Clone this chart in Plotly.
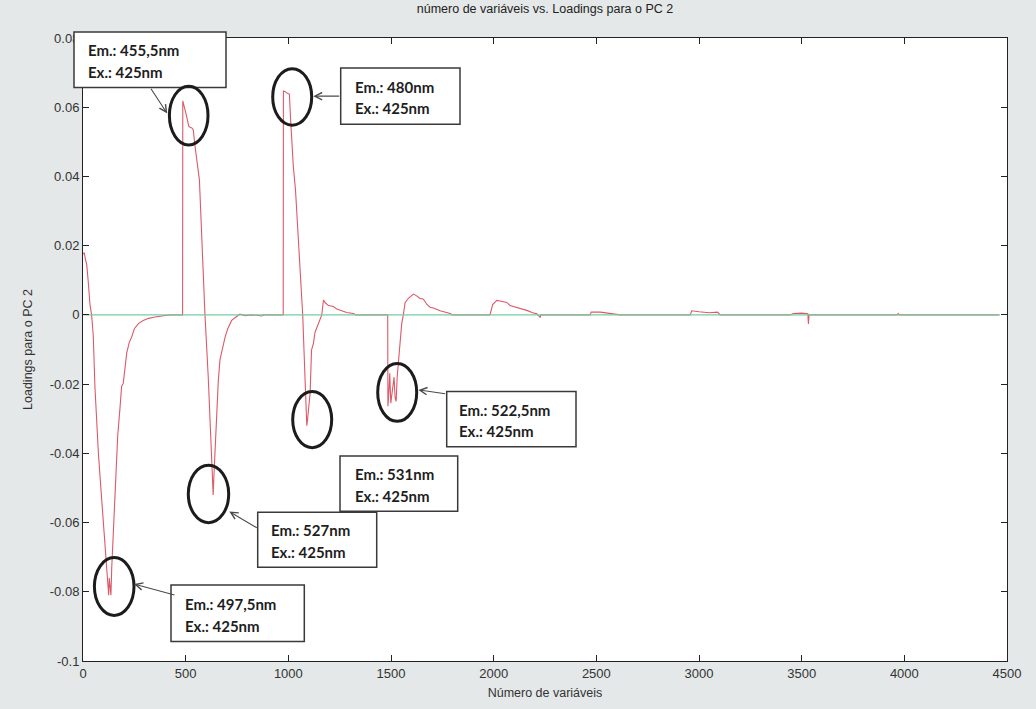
import plotly.graph_objects as go

# ---------------- data ----------------
seg1_x = [1, 6, 12, 18, 25, 34, 42, 50, 58, 66, 75, 87, 99, 108, 115, 120, 125, 128, 132, 136, 140,
          148, 156, 164, 169, 180, 188, 196, 205, 213, 225, 237, 250, 270, 293, 320, 350, 380, 410, 440, 484]
seg1_y = [0.0175, 0.018, 0.016, 0.0146, 0.010, 0.003, 0.0, -0.006, -0.0207, -0.030, -0.040, -0.050,
          -0.060, -0.067, -0.073, -0.078, -0.081, -0.076, -0.080, -0.081, -0.073, -0.062, -0.050, -0.040,
          -0.035, -0.027, -0.0207, -0.0198, -0.014, -0.011, -0.008, -0.0064, -0.004, -0.0025, -0.0016,
          -0.0010, -0.0006, -0.0003, -0.0001, 0.0, 0.0]

seg2_x = [485, 486, 492, 500, 508, 515, 522, 530, 537, 545, 567, 580, 594, 610, 620, 627, 631, 634, 638,
          644, 651, 659, 667, 680, 692, 705, 724, 745, 764, 790, 820, 846, 870, 880]
seg2_y = [0.0, 0.0618, 0.060, 0.0585, 0.0565, 0.0545, 0.0542, 0.0540, 0.0535, 0.049, 0.039, 0.020, 0.0,
          -0.018, -0.033, -0.042, -0.050, -0.052, -0.046, -0.038, -0.027, -0.019, -0.013, -0.009, -0.0064,
          -0.004, -0.0016, -0.0006, 0.0002, -0.0002, 0.0, -0.0001, -0.0003, 0.0]

seg3_x = [975, 976, 985, 995, 1005, 1011, 1024, 1035, 1041, 1057, 1070, 1081, 1087, 1090, 1094, 1100,
          1106, 1113, 1122, 1130, 1137, 1150, 1163, 1171, 1180, 1195, 1219, 1236, 1260, 1284, 1317, 1330]
seg3_y = [0.0, 0.0647, 0.0645, 0.064, 0.0638, 0.0566, 0.0432, 0.036, 0.0298, 0.0146, 0.0, -0.0179,
          -0.027, -0.032, -0.030, -0.026, -0.0226, -0.0102, -0.0083, -0.005, -0.004, -0.002, 0.0, 0.0043,
          0.0035, 0.0027, 0.0024, 0.0017, 0.0012, 0.0007, 0.0004, 0.0]

seg4_x = [1484, 1485, 1490, 1494, 1499, 1505, 1510, 1515, 1520, 1525, 1530, 1541, 1552, 1560, 1569,
          1585, 1601, 1609, 1625, 1640, 1658, 1675, 1690, 1706, 1739, 1771, 1788, 1800]
seg4_y = [0.0, -0.0264, -0.022, -0.0169, -0.0255, -0.022, -0.019, -0.018, -0.024, -0.025, -0.018,
          -0.0102, -0.0026, 0.0, 0.0036, 0.0048, 0.0055, 0.006, 0.0055, 0.0048, 0.0045, 0.003, 0.0022,
          0.002, 0.0012, 0.0007, 0.0004, 0.0]

seg5_x = [1982, 1995, 2015, 2031, 2050, 2064, 2080, 2100, 2113, 2140, 2161, 2190, 2210, 2226, 2230]
seg5_y = [0.0, 0.003, 0.0042, 0.004, 0.0038, 0.0036, 0.0027, 0.0024, 0.0022, 0.0016, 0.0013, 0.0006,
          0.0003, -0.0007, 0.0]

seg6_x = [2470, 2475, 2520, 2560, 2600, 2616]
seg6_y = [0.0, 0.0008, 0.0008, 0.0004, 0.0002, 0.0]

seg7_x = [2957, 2965, 3000, 3050, 3090, 3103]
seg7_y = [0.0, 0.0012, 0.0009, 0.0006, 0.0008, 0.0]

seg8_x = [3444, 3460, 3500, 3530, 3533, 3536, 3965, 3970, 3975, 4460]
seg8_y = [0.0, 0.0004, 0.0005, 0.0003, -0.0026, 0.0, 0.0, 0.0004, 0.0, 0.0]

zero_x = [1, 4466]
zero_y = [0.0, 0.0]

x_tickvals = [0, 500, 1000, 1500, 2000, 2500, 3000, 3500, 4000, 4500]
x_ticktext = ["0", "500", "1000", "1500", "2000", "2500", "3000", "3500", "4000", "4500"]
y_tickvals = [-0.1, -0.08, -0.06, -0.04, -0.02, 0, 0.02, 0.04, 0.06, 0.08]
y_ticktext = ["-0.1", "-0.08", "-0.06", "-0.04", "-0.02", "0", "0.02", "0.04", "0.06", "0.08"]

labels_em = ["Em.: 455,5nm", "Em.: 480nm", "Em.: 522,5nm", "Em.: 531nm", "Em.: 527nm", "Em.: 497,5nm"]
label_ex = "Ex.: 425nm"

title_text = "número de variáveis vs. Loadings para o PC 2"
xlabel = "Número de variáveis"
ylabel = "Loadings para o PC 2"

# ---------------- layout geometry (pixels) ----------------
W, H = 1036, 709
L, R, T, B = 83, 1007, 38, 667


def fx(p):
    return (p - L) / (R - L)


def fy(p):
    return (B - p) / (B - T)


# label boxes: x0, y0, x1, y1, text-left
boxes = [
    (74, 32, 226, 88, 86),
    (340.7, 68.3, 460, 125, 352.7),
    (446.7, 395, 576, 450.7, 456.7),
    (340, 460, 457.7, 515.7, 352.7),
    (257.7, 516.7, 376.7, 572.3, 269.3),
    (171, 590.3, 304.3, 647.3, 182.7),
]
# ellipses: cx, cy, rx, ry
ellipses = [
    (188.7, 116.3, 19.3, 29.7),
    (292.2, 97.5, 19.5, 28.5),
    (312.2, 423.3, 19.5, 28.3),
    (397.2, 395.8, 19.5, 29.2),
    (208.5, 498.3, 20.2, 29.0),
    (114.2, 591.8, 19.8, 29.2),
]
# arrows: tail x, tail y, head x, head y
arrows = [
    (150, 88, 167.3, 114.3),
    (340.7, 96.7, 313.3, 96.7),
    (446.7, 397.3, 418.3, 393.3),
    (258.3, 533.3, 229.3, 516),
    (176, 600.7, 134, 589.3),
]

red_x = seg1_x + seg2_x + seg3_x + seg4_x + seg5_x + seg6_x + seg7_x + seg8_x
red_y = seg1_y + seg2_y + seg3_y + seg4_y + seg5_y + seg6_y + seg7_y + seg8_y

fig = go.Figure()
fig.add_trace(go.Scatter(x=red_x, y=red_y, mode="lines",
                         line=dict(color="#dc5a68", width=1.1), showlegend=False))
fig.add_trace(go.Scatter(x=zero_x, y=zero_y, mode="lines",
                         line=dict(color="#74cda2", width=1.4), showlegend=False))

shapes = []
annotations = []
for (x0, y0, x1, y1, tl), em in zip(boxes, labels_em):
    shapes.append(dict(type="rect", xref="paper", yref="paper",
                       x0=fx(x0), x1=fx(x1), y0=fy(y1), y1=fy(y0),
                       line=dict(color="#3a3a3a", width=1.5), fillcolor="white", layer="above"))
    hgt = y1 - y0
    for txt, frac in ((em, 0.33), (label_ex, 0.72)):
        annotations.append(dict(xref="paper", yref="paper", x=fx(tl), y=fy(y0 + hgt * frac),
                                xanchor="left", yanchor="middle", showarrow=False, text=txt,
                                font=dict(family="Lato", size=15, color="#1e1e1e", weight="bold")))
for cx, cy, rx, ry in ellipses:
    shapes.append(dict(type="circle", xref="paper", yref="paper",
                       x0=fx(cx - rx), x1=fx(cx + rx), y0=fy(cy + ry), y1=fy(cy - ry),
                       line=dict(color="#1c1c1c", width=3), layer="above"))
for tx, ty, hx, hy in arrows:
    annotations.append(dict(xref="paper", yref="paper", x=fx(hx), y=fy(hy),
                            ax=tx - hx, ay=ty - hy, text="", showarrow=True,
                            arrowhead=5, arrowsize=1.3, arrowwidth=1.1, arrowcolor="#4a4a4a"))

axis_common = dict(showline=True, linecolor="#222", linewidth=1, mirror="ticks",
                   ticks="inside", ticklen=6, tickcolor="#222", showgrid=False, zeroline=False,
                   tickfont=dict(family="Liberation Sans, Arial", size=13, color="#333"))

fig.update_layout(
    width=W, height=H,
    margin=dict(l=L, r=W - R, t=T, b=H - B),
    paper_bgcolor="#e4e8e8", plot_bgcolor="white",
    hovermode=False,
    title=dict(text=title_text, x=0.5, xref="paper", xanchor="center",
               y=1 - 9 / H, yref="container", yanchor="middle",
               font=dict(family="Liberation Sans, Arial", size=12.5, color="#222")),
    xaxis=dict(range=[0, 4500], tickvals=x_tickvals, ticktext=x_ticktext,
               title=dict(text=xlabel, standoff=8,
                          font=dict(family="Liberation Sans, Arial", size=12.5, color="#333")),
               **axis_common),
    yaxis=dict(range=[-0.1, 0.08], tickvals=y_tickvals, ticktext=y_ticktext,
               title=dict(text=ylabel, standoff=14,
                          font=dict(family="Liberation Sans, Arial", size=12.5, color="#333")),
               **axis_common),
    shapes=shapes, annotations=annotations,
)

fig.write_html("out.html", config={"displayModeBar": False},
               post_script="document.body.style.margin='0';document.body.style.overflow='hidden';")
